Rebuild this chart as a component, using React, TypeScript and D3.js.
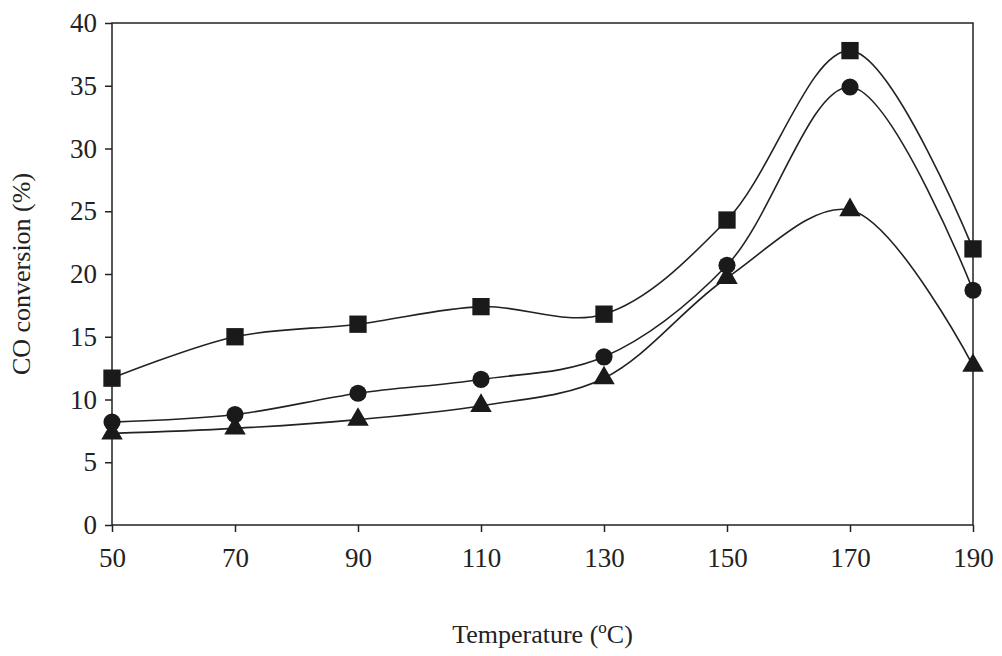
import * as d3 from "d3";
import { useEffect, useRef } from "react";

const temps = [50, 70, 90, 110, 130, 150, 170, 190];
const squareVals = [11.7, 15.0, 16.0, 17.4, 16.8, 24.3, 37.8, 22.0];
const circleVals = [8.2, 8.8, 10.5, 11.6, 13.4, 20.7, 34.9, 18.7];
const triangleVals = [7.3, 7.7, 8.4, 9.5, 11.7, 19.7, 25.1, 12.7];
const yTicks = [0, 5, 10, 15, 20, 25, 30, 35, 40];

const App = () => {
  const ref = useRef<SVGSVGElement>(null);

  useEffect(() => {
    const svg = d3.select(ref.current);
    svg.selectAll("*").remove();
    const margin = { top: 23, right: 29, bottom: 131, left: 112 };
    const width = 1002 - margin.left - margin.right;
    const height = 656 - margin.top - margin.bottom;
    const font = "'Liberation Serif', 'Times New Roman', serif";

    const g = svg.append("g").attr("transform", `translate(${margin.left},${margin.top})`);
    const x = d3.scaleLinear().domain([50, 190]).range([0, width]);
    const y = d3.scaleLinear().domain([0, 40]).range([height, 0]);

    g.append("rect")
      .attr("width", width)
      .attr("height", height)
      .attr("fill", "none")
      .attr("stroke", "#222")
      .attr("stroke-width", 1.5);

    const xa = g.append("g")
      .attr("transform", `translate(0,${height})`)
      .call(d3.axisBottom(x).tickValues(temps).tickSize(7).tickPadding(16).tickSizeOuter(0));
    xa.select(".domain").remove();
    xa.selectAll("line").attr("stroke", "#222").attr("stroke-width", 1.5);
    xa.selectAll("text").style("font-family", font).style("font-size", "27px").attr("fill", "#222");

    const ya = g.append("g").call(d3.axisLeft(y).tickValues(yTicks).tickSize(7).tickPadding(8).tickSizeOuter(0));
    ya.select(".domain").remove();
    ya.selectAll("line").attr("stroke", "#222").attr("stroke-width", 1.5);
    ya.selectAll("text").style("font-family", font).style("font-size", "27px").attr("fill", "#222");

    const line = d3.line<number>()
      .x((_, i) => x(temps[i]))
      .y((d) => y(d))
      .curve(d3.curveCatmullRom.alpha(0.5));

    const series = [
      { vals: squareVals, shape: d3.symbolSquare, size: 300 },
      { vals: circleVals, shape: d3.symbolCircle, size: 230 },
      { vals: triangleVals, shape: d3.symbolTriangle, size: 200 },
    ];

    series.forEach((s) => {
      g.append("path")
        .attr("d", line(s.vals)!)
        .attr("fill", "none")
        .attr("stroke", "#222")
        .attr("stroke-width", 1.6);
      g.selectAll(null)
        .data(s.vals)
        .enter()
        .append("path")
        .attr("d", d3.symbol().type(s.shape).size(s.size)()!)
        .attr("transform", (d, i) => `translate(${x(temps[i])},${y(d)})`)
        .attr("fill", "#1a1a1a");
    });

    const xl = svg.append("text")
      .attr("x", margin.left + width / 2)
      .attr("y", 643)
      .attr("text-anchor", "middle")
      .style("font-family", font)
      .style("font-size", "26px")
      .attr("fill", "#222");
    xl.append("tspan").text("Temperature (");
    xl.append("tspan").text("o").attr("dy", -10).style("font-size", "17px");
    xl.append("tspan").text("C)").attr("dy", 10);

    svg.append("text")
      .attr("transform", `translate(30,${margin.top + height / 2}) rotate(-90)`)
      .attr("text-anchor", "middle")
      .style("font-family", font)
      .style("font-size", "26px")
      .attr("fill", "#222")
      .text("CO conversion (%)");
  }, []);

  return <svg ref={ref} width={1002} height={656} style={{ position: "absolute", left: 0, top: 0, background: "#fff" }} />;
};

export default App;
